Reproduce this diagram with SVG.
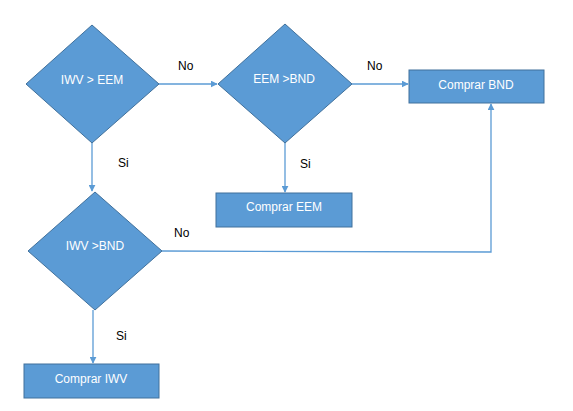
<svg xmlns="http://www.w3.org/2000/svg" width="573" height="411" viewBox="0 0 573 411">
<defs>
<marker id="ah" viewBox="0 0 10 10" refX="9" refY="5" markerWidth="7" markerHeight="7" markerUnits="userSpaceOnUse" orient="auto">
<path d="M0,0 L10,5 L0,10 z" fill="#5B9BD5"/>
</marker>
<style>
.shape{fill:#5B9BD5;stroke:#41719C;stroke-width:1}
.ntext{font-family:"Liberation Sans",Arial,sans-serif;font-size:12px;fill:#ffffff;text-anchor:middle}
.ltext{font-family:"Liberation Sans",Arial,sans-serif;font-size:12px;fill:#000000}
.conn{fill:none;stroke:#5B9BD5;stroke-width:1.3;marker-end:url(#ah)}
</style>
</defs>
<rect width="573" height="411" fill="#ffffff"/>
<g id="connectors">
<path class="conn" d="M159,84 L217,84"/>
<path class="conn" d="M352,84 L408,84"/>
<path class="conn" d="M285,143 L285,192"/>
<path class="conn" d="M92,143 L92,191"/>
<path class="conn" d="M93,310 L93,363"/>
<path class="conn" d="M162,251 L491,252 L491,104"/>
</g>
<g id="labels">
<text class="ltext" x="178" y="70">No</text>
<text class="ltext" x="367" y="70">No</text>
<text class="ltext" x="300" y="168">Si</text>
<text class="ltext" x="118" y="167">Si</text>
<text class="ltext" x="174" y="237">No</text>
<text class="ltext" x="116" y="340">Si</text>
</g>
<g id="d1">
<polygon class="shape" points="92,25 159,84 92,143 26,84"/>
<text class="ntext" x="92" y="84">IWV &gt; EEM</text>
</g>
<g id="d2">
<polygon class="shape" points="285,24 352,84 285,143 218,84"/>
<text class="ntext" x="284" y="83">EEM &gt;BND</text>
</g>
<g id="d3">
<polygon class="shape" points="95,192 162,251 95,310 28,251"/>
<text class="ntext" x="95" y="250">IWV &gt;BND</text>
</g>
<g id="b1">
<rect class="shape" x="409" y="70" width="135" height="33"/>
<text class="ntext" x="476" y="89">Comprar BND</text>
</g>
<g id="b2">
<rect class="shape" x="216" y="193" width="136" height="34"/>
<text class="ntext" x="284" y="211">Comprar EEM</text>
</g>
<g id="b3">
<rect class="shape" x="24" y="364" width="135" height="34"/>
<text class="ntext" x="91" y="383">Comprar IWV</text>
</g>
</svg>
